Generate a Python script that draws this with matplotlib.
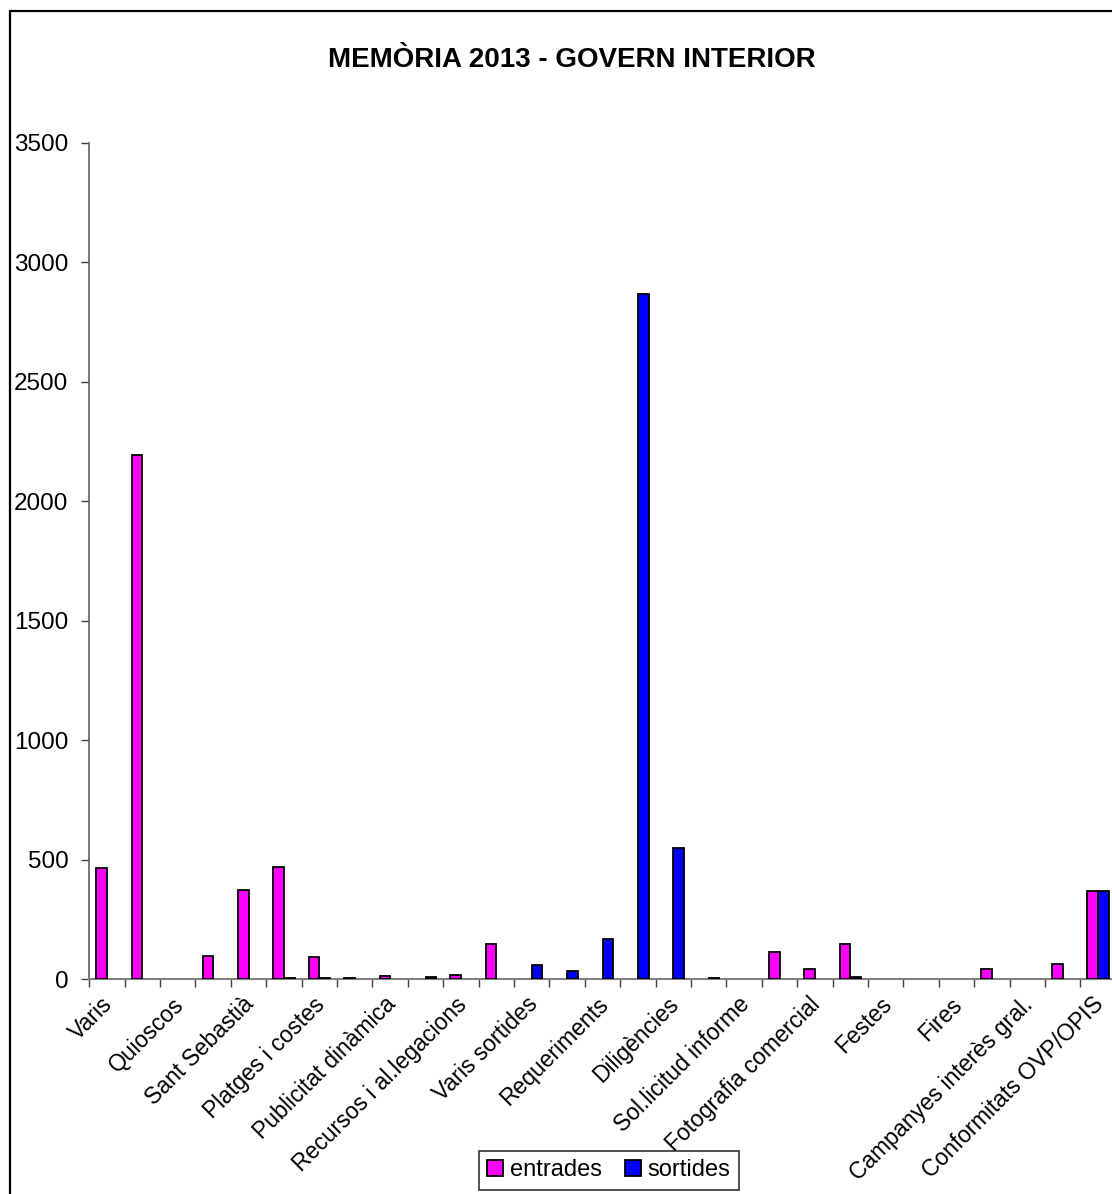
import matplotlib
matplotlib.use("Agg")
import matplotlib.pyplot as plt
from matplotlib.patches import Rectangle
from matplotlib.transforms import ScaledTranslation
import numpy as np

plt.rcParams['font.family'] = ['Liberation Sans', 'DejaVu Sans']

title = "MEMÒRIA 2013 - GOVERN INTERIOR"
categories = ["Varis", "", "Quioscos", "", "Sant Sebastià", "", "Platges i costes", "",
              "Publicitat dinàmica", "", "Recursos i al.legacions", "", "Varis sortides", "",
              "Requeriments", "", "Diligències", "", "Sol.licitud informe", "",
              "Fotografia comercial", "", "Festes", "", "Fires", "",
              "Campanyes interès gral.", "", "Conformitats OVP/OPIS"]
entrades = [463, 2195, 0, 95, 372, 469, 91, 3, 12, 0, 18, 147, 0, 0, 0, 0, 0, 0, 0,
            115, 43, 147, 0, 0, 0, 43, 0, 63, 367]
sortides = [0, 0, 0, 0, 0, 4, 4, 0, 0, 9, 0, 0, 57, 33, 168, 2865, 547, 4, 0,
            0, 0, 9, 0, 0, 0, 0, 0, 0, 367]
series_names = ["entrades", "sortides"]
colors = ["#FF00FF", "#0000FF"]
yticks = [0, 500, 1000, 1500, 2000, 2500, 3000, 3500]

W, H = 1112, 1194
fig = plt.figure(figsize=(W / 100, H / 100), dpi=100)
ax = fig.add_axes([89.3 / W, 1 - 979 / H, 1026.5 / W, (979 - 142.7) / H])

x = np.arange(len(categories))
bw = 0.3
for vals, off, col, name in zip([entrades, sortides], [-bw / 2, bw / 2], colors, series_names):
    v = np.array(vals, dtype=float)
    m = v > 0
    ax.bar(x[m] + off, v[m], width=bw, color=col, edgecolor='black', linewidth=1.3,
           label=name, zorder=3)

ax.set_xlim(-0.5, len(categories) - 0.5)
ax.set_ylim(0, 3500)
ax.set_yticks(yticks)
ax.set_yticklabels([str(t) for t in yticks], fontsize=17.5)
ax.tick_params(axis='y', direction='out', length=6, width=1, color='#404040', pad=9)

# category boundary ticks (major), labels at centres (minor)
ax.set_xticks(np.arange(-0.5, len(categories), 1.0))
ax.set_xticklabels([])
ax.tick_params(axis='x', which='major', direction='out', length=6, width=1, color='#404040')
ax.set_xticks(x, minor=True)
ax.set_xticklabels(categories, minor=True, rotation=45, ha='right',
                   rotation_mode='anchor', fontsize=16.5)
ax.tick_params(axis='x', which='minor', length=0, pad=10)
shift = ScaledTranslation(-6 / 100, 0, fig.dpi_scale_trans)
for lbl in ax.get_xticklabels(minor=True):
    lbl.set_transform(lbl.get_transform() + shift)

for s in ['top', 'right']:
    ax.spines[s].set_visible(False)
ax.spines['left'].set_color('#606060')
ax.spines['bottom'].set_color('#808080')
ax.spines['left'].set_linewidth(1.2)
ax.spines['bottom'].set_linewidth(1.5)

fig.text(572 / W, 1 - 60 / H, title, ha='center', va='center', fontsize=20,
         fontweight='bold')

leg = fig.legend(loc='upper center', bbox_to_anchor=(609 / W, 1 - 1151 / H), ncol=2,
                 fontsize=17, frameon=True, fancybox=False, edgecolor='black',
                 handlelength=0.65, handleheight=0.65, handletextpad=0.3,
                 columnspacing=1.0, borderpad=0.35, borderaxespad=0)
leg.get_frame().set_linewidth(1.2)

fig.add_artist(Rectangle((10 / W, -0.1), 1.2, 1.1 - 10.5 / H, transform=fig.transFigure,
                         fill=False, edgecolor='black', linewidth=1.6))

fig.savefig("out.png", dpi=100, facecolor='white')
